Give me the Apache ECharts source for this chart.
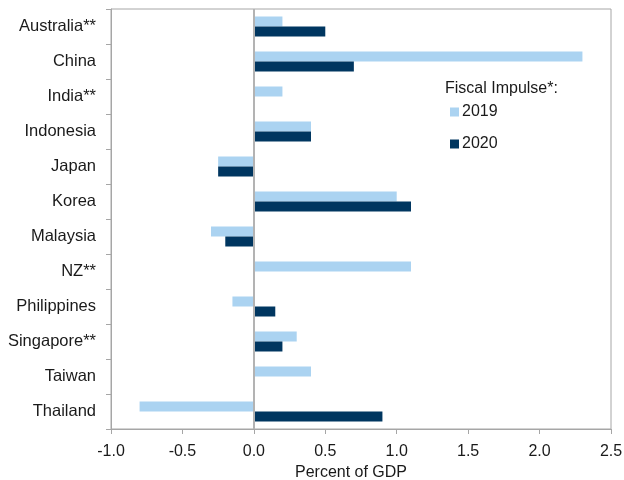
<!DOCTYPE html>
<html>
<head>
<meta charset="utf-8">
<script src="https://cdn.jsdelivr.net/npm/echarts@6/dist/echarts.min.js"></script>
<style>
  html, body { margin: 0; padding: 0; background: #fff; }
  #chart { width: 624px; height: 480px; }
</style>
</head>
<body>
<div id="chart"></div>
<script>
// Fiscal impulse by economy, percent of GDP
const countries = ['Australia**', 'China', 'India**', 'Indonesia', 'Japan', 'Korea',
  'Malaysia', 'NZ**', 'Philippines', 'Singapore**', 'Taiwan', 'Thailand'];
const impulse2019 = [0.2, 2.3, 0.2, 0.4, -0.25, 1.0, -0.3, 1.1, -0.15, 0.3, 0.4, -0.8];
const impulse2020 = [0.5, 0.7, null, 0.4, -0.25, 1.1, -0.2, null, 0.15, 0.2, null, 0.9];
const xTicks = { min: -1.0, max: 2.5, step: 0.5 };

const FONT = 'Liberation Sans, Arial, sans-serif';
const TEXT = '#1a1a1a';
const AXIS = '#a6a6a6';

const chart = echarts.init(document.getElementById('chart'), null, { renderer: 'canvas' });

chart.setOption({
  animation: false,
  backgroundColor: '#ffffff',
  textStyle: { fontFamily: FONT },
  grid: {
    left: 111, right: 13, top: 9, bottom: 51,
    outerBoundsMode: 'none',
    containLabel: false,
    show: true, borderColor: AXIS, borderWidth: 1
  },
  legend: {
    orient: 'vertical',
    left: 450, top: 104,
    padding: 0,
    itemWidth: 9, itemHeight: 9,
    itemGap: 16,
    icon: 'rect',
    textStyle: { fontFamily: FONT, fontSize: 16, color: TEXT, padding: [0, 0, 0, -2] },
    data: ['2019', '2020']
  },
  graphic: [{
    type: 'text',
    left: 445, top: 81,
    style: { text: 'Fiscal Impulse*:', font: '16px ' + FONT, fill: TEXT }
  }],
  xAxis: {
    type: 'value',
    min: xTicks.min, max: xTicks.max, interval: xTicks.step,
    name: 'Percent of GDP',
    nameLocation: 'middle',
    nameGap: 35,
    nameTextStyle: { fontSize: 16, color: TEXT, padding: [0, 20, 0, 0] },
    axisLine: { show: true, lineStyle: { color: AXIS, width: 1 } },
    axisTick: { show: true, length: 5, lineStyle: { color: AXIS } },
    axisLabel: {
      margin: 15, fontSize: 16, color: TEXT,
      formatter: v => v.toFixed(1)
    },
    splitLine: { show: false }
  },
  yAxis: {
    type: 'category',
    inverse: true,
    data: countries,
    axisLine: { show: true, onZero: false, lineStyle: { color: AXIS, width: 1 } },
    axisTick: { show: true, length: 5, lineStyle: { color: AXIS } },
    axisLabel: { margin: 15, fontSize: 16.5, color: TEXT, padding: [3, 0, 0, 0] }
  },
  series: [
    {
      name: '2019',
      type: 'bar',
      data: impulse2019,
      barWidth: 10,
      barGap: '0%',
      itemStyle: { color: '#abd3f1' },
      markLine: {
        silent: true,
        symbol: 'none',
        label: { show: false },
        lineStyle: { color: '#b3b3b3', width: 2, type: 'solid' },
        data: [{ xAxis: 0 }]
      }
    },
    {
      name: '2020',
      type: 'bar',
      data: impulse2020,
      barWidth: 10,
      barGap: '0%',
      itemStyle: { color: '#003660' }
    }
  ]
});
</script>
</body>
</html>
